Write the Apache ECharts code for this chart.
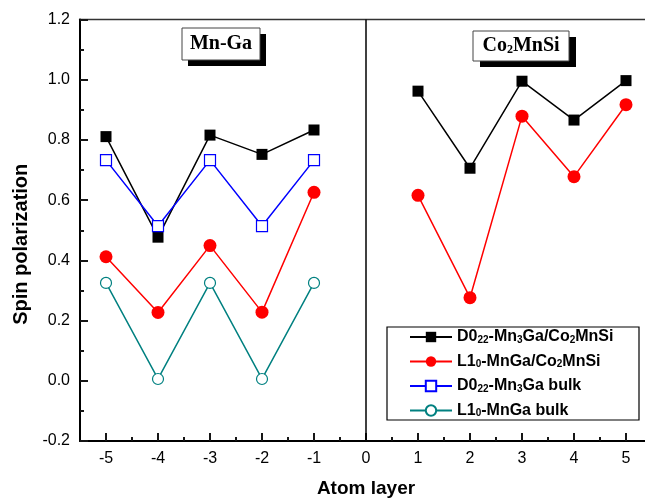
<!DOCTYPE html>
<html><head><meta charset="utf-8">
<script src="https://cdn.jsdelivr.net/npm/echarts@6/dist/echarts.min.js"></script>
<style>html,body{margin:0;padding:0;background:#fff}#c{width:645px;height:500px}</style>
</head><body><div id="c"></div>
<script>
const layersLeft = [-5, -4, -3, -2, -1];
const layersRight = [1, 2, 3, 4, 5];
const d022Interface = [0.811, 0.477, 0.816, 0.752, 0.833, 0.962, 0.706, 0.995, 0.866, 0.997];
const l10Interface = [0.412, 0.227, 0.449, 0.228, 0.626, 0.616, 0.276, 0.879, 0.678, 0.917];
const d022Bulk = [0.733, 0.514, 0.733, 0.514, 0.733];
const l10Bulk = [0.325, 0.006, 0.325, 0.006, 0.325];
const xMajorTicks = [-5, -4, -3, -2, -1, 0, 1, 2, 3, 4, 5];
const xMinorTicks = [-4.5, -3.5, -2.5, -1.5, -0.5, 0.5, 1.5, 2.5, 3.5, 4.5, 5.5];
const seriesNames = ['D022-Mn3Ga/Co2MnSi', 'L10-MnGa/Co2MnSi', 'D022-Mn3Ga bulk', 'L10-MnGa bulk'];
const legendRich = {
  'D022-Mn3Ga/Co2MnSi': 'D0{s|22}-Mn{s|3}Ga/Co{s|2}MnSi',
  'L10-MnGa/Co2MnSi': 'L1{s|0}-MnGa/Co{s|2}MnSi',
  'D022-Mn3Ga bulk': 'D0{s|22}-Mn{s|3}Ga bulk',
  'L10-MnGa bulk': 'L1{s|0}-MnGa bulk'
};
const zip = (xs, ys) => xs.map((x, i) => [x, ys[i]]);

const chart = echarts.init(document.getElementById('c'), null, {renderer: 'canvas'});
const sans = 'Liberation Sans, Arial, sans-serif';
const serif = 'Liberation Serif, Times New Roman, serif';
const tickStyle = {color: '#161616', width: 2, opacity: 1, type: 'solid'};
chart.setOption({
  animation: false,
  grid: {left: 80, top: 19.5, width: 572, height: 421.5, outerBoundsMode: 'none', containLabel: false, show: true, borderColor: '#333', borderWidth: 1.5, backgroundColor: 'transparent'},
  xAxis: [
    {
      type: 'value', min: -5.5, max: 5.5, position: 'bottom', splitLine: {show: false},
      name: 'Atom layer', nameLocation: 'middle', nameGap: 38,
      nameTextStyle: {fontFamily: sans, fontWeight: 'bold', fontSize: 19, color: '#000'},
      axisLine: {show: true, onZero: false, lineStyle: {color: '#000', width: 2}},
      axisTick: {show: true, inside: true, length: 8, customValues: xMajorTicks, lineStyle: tickStyle},
      axisLabel: {customValues: xMajorTicks, fontFamily: sans, fontSize: 16, color: '#000', margin: 10}
    },
    {
      type: 'value', min: -5.5, max: 5.5, position: 'bottom', splitLine: {show: false},
      axisLine: {show: false, onZero: false},
      axisTick: {show: true, inside: true, length: 4, customValues: xMinorTicks, lineStyle: tickStyle},
      axisLabel: {show: false}
    }
  ],
  yAxis: {
    type: 'value', min: -0.2, max: 1.2, interval: 0.2,
    name: 'Spin polarization', nameLocation: 'middle', nameGap: 47,
    nameTextStyle: {fontFamily: sans, fontWeight: 'bold', fontSize: 20, color: '#000', padding: [0, 28, 0, 0]},
    splitLine: {show: false},
    axisLine: {show: true, onZero: false, lineStyle: {color: '#000', width: 2}},
    axisTick: {show: true, inside: true, length: 8, lineStyle: tickStyle},
    minorTick: {show: true, splitNumber: 2, length: 4, lineStyle: tickStyle},
    axisLabel: {fontFamily: sans, fontSize: 16, color: '#000', margin: 10, formatter: v => v.toFixed(1)}
  },
  legend: {
    orient: 'vertical', left: 404, top: 324, itemWidth: 42, itemHeight: 13, itemGap: 8.5,
    data: seriesNames,
    formatter: n => legendRich[n],
    textStyle: {fontFamily: sans, fontWeight: 'bold', fontSize: 16, color: '#000',
      rich: {s: {fontFamily: sans, fontWeight: 'bold', fontSize: 10, color: '#000', verticalAlign: 'bottom', padding: [6, 0, 0, 0]}}}
  },
  series: [
    {
      name: seriesNames[0], type: 'line', data: zip(layersLeft, d022Interface.slice(0, 5)),
      symbol: 'rect', symbolSize: 11, itemStyle: {color: '#000'}, lineStyle: {color: '#000', width: 1.5},
      markLine: {silent: true, symbol: 'none', label: {show: false}, lineStyle: {color: '#000', width: 1.5, type: 'solid'}, data: [{xAxis: 0}]}
    },
    {
      name: seriesNames[0], type: 'line', data: zip(layersRight, d022Interface.slice(5)),
      symbol: 'rect', symbolSize: 11, itemStyle: {color: '#000'}, lineStyle: {color: '#000', width: 1.5}
    },
    {
      name: seriesNames[1], type: 'line', data: zip(layersLeft, l10Interface.slice(0, 5)),
      symbol: 'circle', symbolSize: 13, itemStyle: {color: '#ff0000'}, lineStyle: {color: '#ff0000', width: 1.5}
    },
    {
      name: seriesNames[1], type: 'line', data: zip(layersRight, l10Interface.slice(5)),
      symbol: 'circle', symbolSize: 13, itemStyle: {color: '#ff0000'}, lineStyle: {color: '#ff0000', width: 1.5}
    },
    {
      name: seriesNames[2], type: 'line', data: zip(layersLeft, d022Bulk),
      symbol: 'rect', symbolSize: 11, itemStyle: {color: '#fff', borderColor: '#0000ff', borderWidth: 1.2}, lineStyle: {color: '#0000ff', width: 1.5}
    },
    {
      name: seriesNames[3], type: 'line', data: zip(layersLeft, l10Bulk),
      symbol: 'circle', symbolSize: 11, itemStyle: {color: '#fff', borderColor: '#008080', borderWidth: 1.2}, lineStyle: {color: '#008080', width: 1.5}
    }
  ],
  graphic: [
    {type: 'rect', shape: {x: 188, y: 34, width: 78, height: 32}, style: {fill: '#000'}, z: 10},
    {type: 'rect', shape: {x: 182, y: 28, width: 78, height: 32}, style: {fill: '#fff', stroke: '#444', lineWidth: 1}, z: 11},
    {type: 'text', x: 221, y: 44, z: 12, style: {text: 'Mn-Ga', font: 'bold 20px ' + serif, fill: '#000', align: 'center', verticalAlign: 'middle'}},
    {type: 'rect', shape: {x: 480, y: 37, width: 96, height: 30}, style: {fill: '#000'}, z: 10},
    {type: 'rect', shape: {x: 473, y: 31, width: 96, height: 30}, style: {fill: '#fff', stroke: '#444', lineWidth: 1}, z: 11},
    {type: 'text', x: 521, y: 46, z: 12, style: {text: 'Co{s|2}MnSi', font: 'bold 20px ' + serif, fill: '#000', align: 'center', verticalAlign: 'middle',
      rich: {s: {font: 'bold 12px ' + serif, fill: '#000', verticalAlign: 'bottom', padding: [6, 0, 0, 0]}}}},
    {type: 'rect', shape: {x: 387, y: 327, width: 252, height: 93}, style: {fill: 'none', stroke: '#000', lineWidth: 1.2}, z: 5}
  ]
});
</script></body></html>
